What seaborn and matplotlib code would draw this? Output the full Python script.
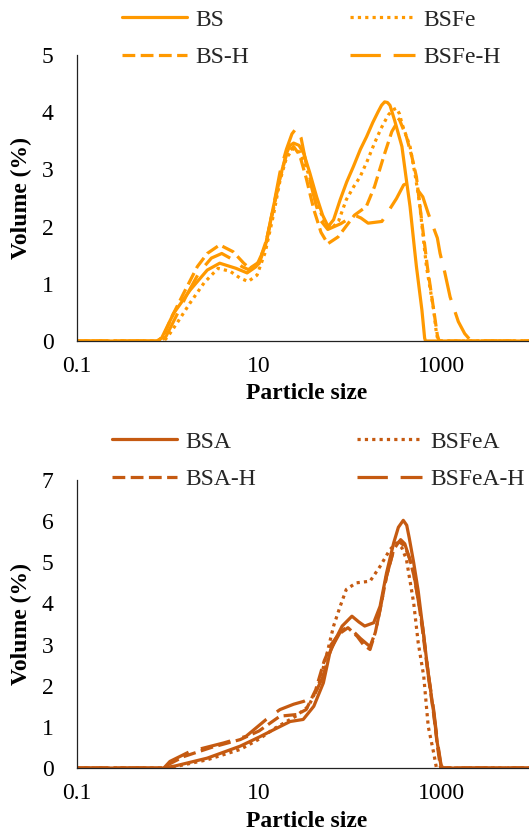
import matplotlib
matplotlib.use("Agg")
import matplotlib.pyplot as plt
import seaborn as sns
import numpy as np

# ---------------- data (top panel) ----------------
bs_x = [0.1, 0.75, 0.85, 1.15, 1.75, 2.7, 3.7, 5.6, 7.4, 9.3, 11.7, 14.4, 17, 20, 22, 24, 27.5, 31, 36, 43, 50,
        57.5, 66, 78, 92, 109, 130, 152, 178, 204, 222, 240, 258, 275, 309, 372, 417, 457, 513, 537, 617, 661, 676, 10000]
bs_y = [0, 0, 0.05, 0.48, 0.89, 1.24, 1.36, 1.27, 1.19, 1.30, 1.65, 2.35, 2.85, 3.28, 3.42, 3.46, 3.42, 3.28, 2.95, 2.52, 2.2,
        2.0, 2.12, 2.47, 2.78, 3.05, 3.35, 3.57, 3.82, 4.01, 4.12, 4.18, 4.17, 4.12, 3.86, 3.4, 2.81, 2.35, 1.59, 1.3, 0.54, 0.05, 0, 0]

bsfe_x = [0.1, 0.9, 1.0, 1.3, 1.74, 2.5, 3.55, 4.8, 6.2, 7.6, 9.5, 11.7, 14.4, 17, 20, 24, 28, 32, 38, 45,
          52, 63, 75, 91, 110, 129, 155, 186, 220, 263, 295, 324, 350, 372, 457, 520, 575, 692, 832, 891, 933, 10000]
bsfe_y = [0, 0, 0.08, 0.35, 0.66, 1.02, 1.27, 1.22, 1.1, 1.04, 1.15, 1.55, 2.2, 2.8, 3.2, 3.37, 3.3, 3.1, 2.75, 2.35,
          2.1, 1.97, 2.1, 2.47, 2.7, 2.87, 3.15, 3.46, 3.72, 3.95, 4.04, 4.07, 3.97, 3.8, 3.4, 2.9, 2.47, 1.3, 0.54, 0.13, 0, 0]

bsh_x = [0.1, 0.78, 0.9, 1.1, 1.48, 2.1, 2.7, 3.7, 5.2, 6.8, 7.9, 10, 12, 14.4, 17, 20, 24, 28, 33, 40,
         48, 57, 74, 95, 112, 151, 186, 234, 288, 347, 417, 479, 537, 575, 708, 832, 912, 955, 10000]
bsh_y = [0, 0, 0.1, 0.42, 0.83, 1.3, 1.53, 1.68, 1.56, 1.36, 1.27, 1.38, 1.75, 2.3, 2.85, 3.25, 3.4, 3.25, 2.85, 2.3,
         1.9, 1.7, 1.82, 2.05, 2.2, 2.35, 2.7, 3.22, 3.66, 3.88, 3.57, 3.22, 2.87, 2.47, 1.3, 0.54, 0.1, 0, 0]

bsfeh_x = [0.1, 0.85, 0.95, 1.2, 1.6, 2.2, 3.0, 3.9, 5.2, 6.5, 7.6, 10, 12, 14.4, 17, 20, 23, 25.7, 29, 33, 37,
           42, 48, 57, 79, 112, 132, 158, 224, 324, 389, 437, 537, 631, 724, 912, 977, 1100, 1259, 1549, 1820,
           2140, 10000]
bsfeh_y = [0, 0, 0.08, 0.4, 0.8, 1.2, 1.45, 1.53, 1.42, 1.3, 1.25, 1.35, 1.7, 2.35, 2.95, 3.35, 3.62, 3.72, 3.55, 3.1, 2.75,
           2.4, 2.1, 1.95, 2.05, 2.2, 2.15, 2.06, 2.09, 2.49, 2.73, 2.76, 2.67, 2.52, 2.23, 1.80, 1.53, 1.2, 0.77, 0.34, 0.13,
           0, 0]

# ---------------- data (bottom panel) ----------------
bsa_x = [0.1, 0.89, 1.2, 2.7, 6.2, 10, 14.5, 22, 30.6, 40, 51, 60, 70, 82, 105, 125, 145, 182, 214, 252,
         302, 340, 385, 420, 447, 501, 562, 631, 724, 832, 912, 1000, 1047, 10000]
bsa_y = [0, 0, 0.05, 0.24, 0.53, 0.75, 0.93, 1.13, 1.18, 1.5, 2.07, 2.8, 3.15, 3.45, 3.69, 3.55, 3.45, 3.53, 3.93, 4.74,
         5.47, 5.85, 6.02, 5.9, 5.6, 4.99, 4.3, 3.4, 2.3, 1.34, 0.6, 0.05, 0, 0]

bsah_x = [0.1, 0.85, 1.5, 3, 6.2, 10, 17, 26, 33, 42, 52, 62, 75, 95, 120, 140, 166, 190, 214, 252,
          302, 345, 400, 450, 501, 562, 631, 724, 832, 912, 980, 1000, 10000]
bsah_y = [0, 0, 0.28, 0.5, 0.69, 0.9, 1.26, 1.30, 1.42, 1.9, 2.6, 3.0, 3.25, 3.41, 3.2, 3.0, 2.88, 3.3, 3.85, 4.66,
          5.31, 5.5, 5.4, 5.1, 4.7, 4.1, 3.3, 2.25, 1.3, 0.55, 0.05, 0, 0]

bsfea_x = [0.1, 0.95, 1.3, 2.7, 6.2, 10, 14.5, 25, 35, 45, 55, 66, 78, 91, 117, 166, 214, 275, 324, 372,
           417, 501, 562, 646, 724, 832, 871, 891, 10000]
bsfea_y = [0, 0, 0.05, 0.2, 0.45, 0.7, 0.95, 1.25, 1.5, 2.0, 2.72, 3.45, 3.93, 4.34, 4.5, 4.54, 4.9, 5.31, 5.47, 5.35,
           5.07, 4.01, 3.04, 2.23, 1.01, 0.36, 0.12, 0, 0]

bsfeah_x = [0.1, 0.9, 1.05, 1.74, 4.1, 7.2, 12, 17, 24, 31, 40, 50, 62, 78, 95, 130, 166, 190, 214, 252,
            302, 360, 400, 450, 501, 631, 724, 832, 912, 1000, 1047, 10000]
bsfeah_y = [0, 0, 0.16, 0.40, 0.61, 0.77, 1.18, 1.42, 1.55, 1.62, 1.74, 2.2, 2.9, 3.3, 3.45, 3.15, 2.95, 3.3, 3.85, 4.66,
            5.3, 5.55, 5.45, 5.1, 4.75, 3.4, 2.3, 1.4, 0.65, 0.08, 0, 0]

x_ticks = [0.1, 10, 1000]
x_tick_labels = ["0.1", "10", "1000"]

# ---------------- style ----------------
sns.set_theme(style="white")
plt.rcParams['font.family'] = ['Liberation Serif', 'DejaVu Serif']
FS = 17

top_color = "#FF9900"
bot_color = "#C55A11"
LW = 2.3
styles = {
    "solid": "-",
    "dot": (0, (1.0, 1.3)),
    "dash": (0, (4.0, 1.7)),
    "longdash": (0, (9.5, 4.0)),
}

W, H = 529, 833
fig = plt.figure(figsize=(W / 100, H / 100), dpi=100)

def px_axes(left, right, top, bottom):
    return fig.add_axes([left / W, 1 - bottom / H, (right - left) / W, (bottom - top) / H])

ax1 = px_axes(77, 77 + 5 * 91, 55, 341)
ax2 = px_axes(77, 77 + 5 * 91, 480, 768)

def draw(ax, series, color, ymax, legend_anchor):
    for name, xs, ys, st in series:
        sns.lineplot(x=xs, y=ys, ax=ax, color=color, lw=LW, linestyle=styles[st],
                     estimator=None, sort=False, label=name, legend=False)
    for ln in ax.get_lines():
        ln.set_solid_joinstyle("round")
        ln.set_dash_joinstyle("round")
    lines = ax.get_lines()
    order = [0, 2, 1, 3]
    hs = [lines[i] for i in order]
    labs = [series[i][0] for i in order]
    ax.set_xscale("log")
    ax.set_xlim(0.1, 10000)
    ax.set_ylim(0, ymax)
    ax.set_xticks(x_ticks)
    ax.set_xticklabels(x_tick_labels)
    ax.minorticks_off()
    ax.set_yticks(range(0, ymax + 1))
    ax.tick_params(axis="both", length=0, labelsize=FS, colors="black")
    ax.tick_params(axis="y", pad=17)
    ax.tick_params(axis="x", pad=11)
    for s in ["top", "right"]:
        ax.spines[s].set_visible(False)
    for s in ["left", "bottom"]:
        ax.spines[s].set_color("#222222")
        ax.spines[s].set_linewidth(0.9)
    ax.set_xlabel("Particle size", fontsize=FS, fontweight="bold", color="black")
    ax.set_ylabel("Volume (%)", fontsize=FS, fontweight="bold", color="black")
    ax.xaxis.set_label_coords(0.505, -0.148)
    ax.yaxis.set_label_coords(-0.098, 0.5)
    ax.set_facecolor("none")
    fig.legend(hs, labs, ncol=2, loc="upper left", bbox_to_anchor=legend_anchor,
               frameon=False, fontsize=FS, handlelength=2.75, handletextpad=0.35,
               columnspacing=4.3, labelspacing=0.68, borderpad=0, borderaxespad=0)

draw(ax1, [("BS", bs_x, bs_y, "solid"), ("BSFe", bsfe_x, bsfe_y, "dot"),
           ("BS-H", bsh_x, bsh_y, "dash"), ("BSFe-H", bsfeh_x, bsfeh_y, "longdash")],
     top_color, 5, (122 / W, 1 - 9 / H))
draw(ax2, [("BSA", bsa_x, bsa_y, "solid"), ("BSFeA", bsfea_x, bsfea_y, "dot"),
           ("BSA-H", bsah_x, bsah_y, "dash"), ("BSFeA-H", bsfeah_x, bsfeah_y, "longdash")],
     bot_color, 7, (112 / W, 1 - 431 / H))

fig.savefig("out.png", dpi=100, facecolor="white")
